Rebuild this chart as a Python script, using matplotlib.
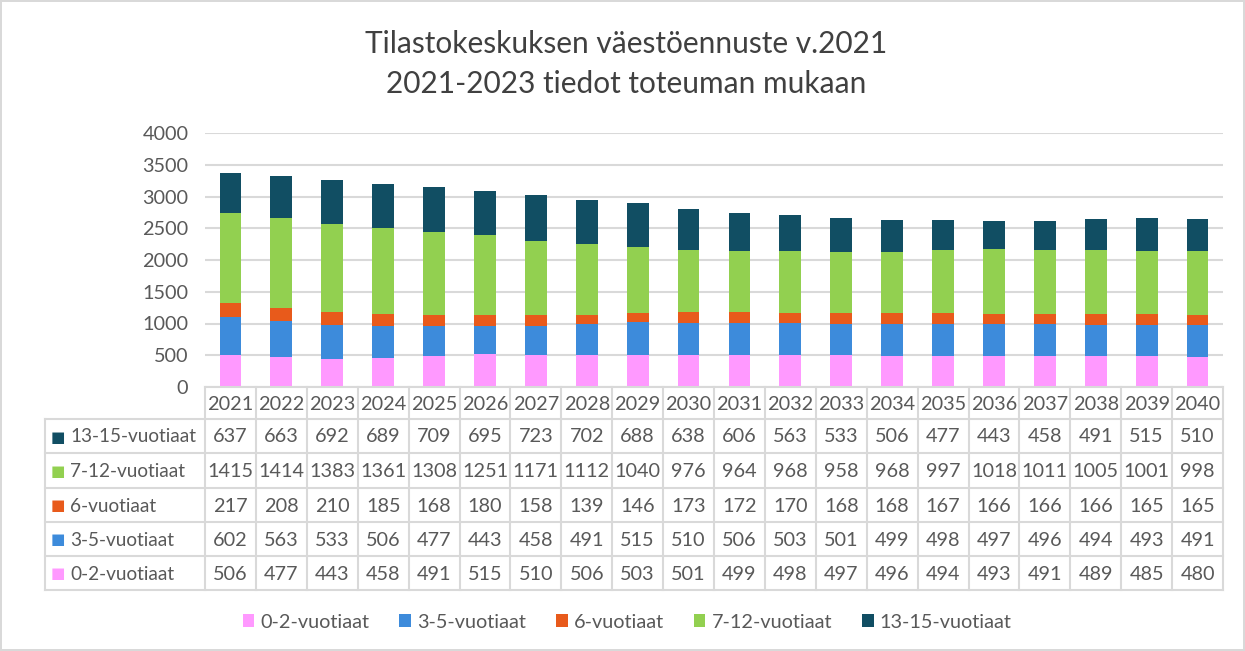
import matplotlib
matplotlib.use("Agg")
import matplotlib.pyplot as plt
import numpy as np

years = [str(y) for y in range(2021, 2041)]
series_names = ["0-2-vuotiaat", "3-5-vuotiaat", "6-vuotiaat", "7-12-vuotiaat", "13-15-vuotiaat"]
v0_2 = [506, 477, 443, 458, 491, 515, 510, 506, 503, 501, 499, 498, 497, 496, 494, 493, 491, 489, 485, 480]
v3_5 = [602, 563, 533, 506, 477, 443, 458, 491, 515, 510, 506, 503, 501, 499, 498, 497, 496, 494, 493, 491]
v6 = [217, 208, 210, 185, 168, 180, 158, 139, 146, 173, 172, 170, 168, 168, 167, 166, 166, 166, 165, 165]
v7_12 = [1415, 1414, 1383, 1361, 1308, 1251, 1171, 1112, 1040, 976, 964, 968, 958, 968, 997, 1018, 1011, 1005, 1001, 998]
v13_15 = [637, 663, 692, 689, 709, 695, 723, 702, 688, 638, 606, 563, 533, 506, 477, 443, 458, 491, 515, 510]
colors = ["#FF99FF", "#3D8BDB", "#E85A1B", "#92D050", "#114E63"]
title = "Tilastokeskuksen väestöennuste v.2021\n2021-2023 tiedot toteuman mukaan"

values = [v0_2, v3_5, v6, v7_12, v13_15]

plt.rcParams['font.family'] = ['Lato', 'DejaVu Sans']
W, H = 1245, 651
fs = 14.3
fig = plt.figure(figsize=(W / 100, H / 100), dpi=100)
fig.patch.set_edgecolor("#D9D9D9")
fig.patch.set_linewidth(1.5)

ax_l, ax_r, ax_t, ax_b = 205, 1223, 133, 387
ax = fig.add_axes([ax_l / W, 1 - ax_b / H, (ax_r - ax_l) / W, (ax_b - ax_t) / H])
x = np.arange(len(years))
bottom = np.zeros(len(years))
handles = []
for name, vals, c in zip(series_names, values, colors):
    b = ax.bar(x, vals, width=0.43, bottom=bottom, color=c, label=name, zorder=3)
    handles.append(b)
    bottom += np.array(vals)
ax.set_xlim(-0.5, len(years) - 0.5)
ax.set_ylim(0, 4000)
ax.set_yticks(range(0, 4001, 500))
ax.yaxis.grid(True, color="#D9D9D9", linewidth=1.5, zorder=0)
ax.set_xticks([])
ax.tick_params(axis="y", length=0, pad=12, labelsize=fs, labelcolor="#595959")
for s in ax.spines.values():
    s.set_visible(False)

# Table
tl, tr, tt, tb = 45, 1223, 387, 590
unit = (ax_r - ax_l) / len(years)
tax = fig.add_axes([tl / W, 1 - tb / H, (tr - tl) / W, (tb - tt) / H])
x_left = -0.5 - (ax_l - tl) / unit
tax.set_xlim(x_left, len(years) - 0.5)
tax.set_ylim(tb, tt)
tax.axis("off")
row_edges = [387, 419, 453, 488, 522, 556, 590]
gc = "#D9D9D9"
lw = 1.5
tax.plot([-0.5, len(years) - 0.5], [row_edges[0]] * 2, color=gc, lw=lw, clip_on=False)
for yv in row_edges[1:]:
    tax.plot([x_left, len(years) - 0.5], [yv, yv], color=gc, lw=lw, clip_on=False)
for i in range(len(years) + 1):
    tax.plot([i - 0.5, i - 0.5], [row_edges[0], row_edges[-1]], color=gc, lw=lw, clip_on=False)
tax.plot([x_left, x_left], [row_edges[1], row_edges[-1]], color=gc, lw=lw, clip_on=False)
tc = "#595959"
for i, yr in enumerate(years):
    tax.text(i, (row_edges[0] + row_edges[1]) / 2 + 1, yr, ha="center", va="center", fontsize=fs, color=tc)
order = list(range(len(series_names)))[::-1]
for r, si in enumerate(order):
    yc = (row_edges[r + 1] + row_edges[r + 2]) / 2 + 1
    tax.text(x_left + 6 / unit, yc, "■", ha="left", va="center", fontsize=11, color=colors[si],
             family=['DejaVu Sans'])
    tax.text(x_left + 25 / unit, yc, series_names[si], ha="left", va="center", fontsize=13.7, color=tc)
    for i, v in enumerate(values[si]):
        tax.text(i, yc, str(v), ha="center", va="center", fontsize=fs, color=tc)

fig.text(626 / W, 1 - 64 / H, title, ha="center", va="center", fontsize=21.5, color="#404040",
         linespacing=1.5)

fig.legend(handles=handles, labels=series_names, loc="center", bbox_to_anchor=(627 / W, 1 - 622 / H),
           ncol=5, frameon=False, fontsize=fs, handlelength=0.6, handleheight=0.6, handletextpad=0.3,
           columnspacing=1.5, labelcolor=tc)

fig.savefig("out.png", dpi=100)
